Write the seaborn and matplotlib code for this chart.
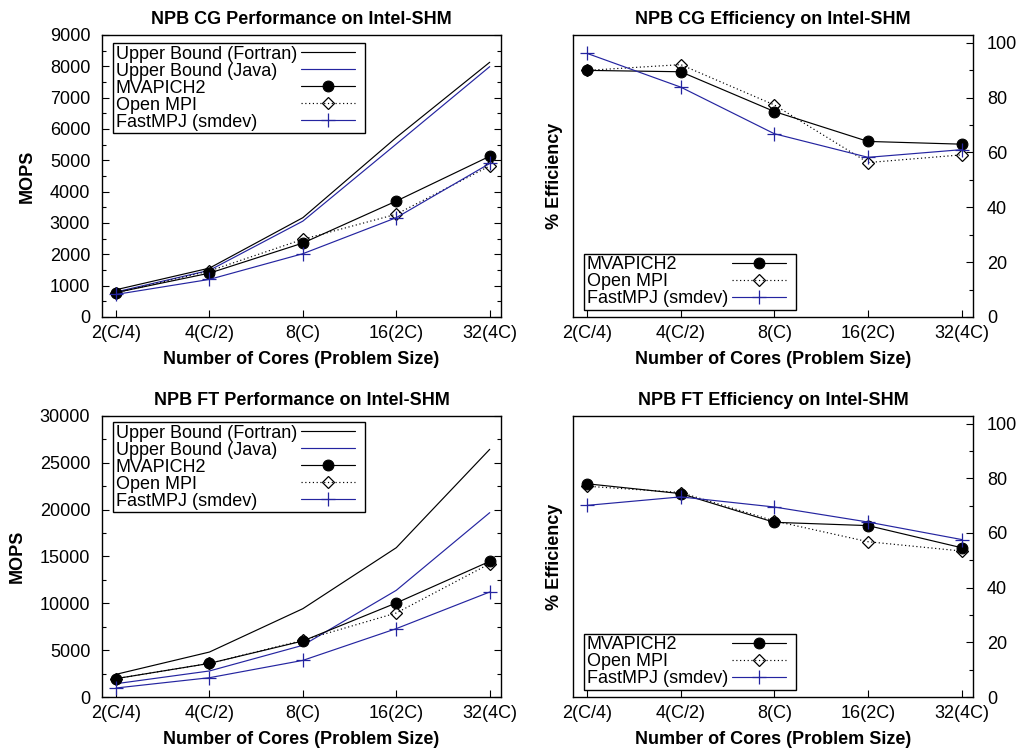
import numpy as np
import pandas as pd
import matplotlib
matplotlib.use("Agg")
import matplotlib.pyplot as plt
import seaborn as sns
from matplotlib.ticker import MultipleLocator
from matplotlib.offsetbox import DrawingArea

# ---------------- data ----------------
categories = ["2(C/4)", "4(C/2)", "8(C)", "16(2C)", "32(4C)"]

cg_fortran = [870, 1560, 3170, 5730, 8130]
cg_java = [800, 1490, 3060, 5520, 7990]
cg_mvapich = [780, 1400, 2360, 3700, 5130]
cg_openmpi = [770, 1470, 2480, 3280, 4820]
cg_fastmpj = [720, 1200, 2020, 3170, 4900]

cg_eff_mvapich = [89.9, 89.4, 74.9, 64.0, 63.0]
cg_eff_openmpi = [89.9, 92.0, 77.3, 56.3, 59.1]
cg_eff_fastmpj = [96.1, 83.8, 66.8, 58.2, 61.0]

ft_fortran = [2420, 4800, 9430, 15940, 26440]
ft_java = [1420, 2780, 5520, 11390, 19680]
ft_mvapich = [1960, 3590, 5980, 10040, 14480]
ft_openmpi = [1960, 3590, 6050, 8970, 14230]
ft_fastmpj = [960, 2060, 3910, 7300, 11210]

ft_eff_mvapich = [78.0, 74.4, 63.9, 62.7, 54.6]
ft_eff_openmpi = [77.1, 74.8, 64.4, 56.8, 53.4]
ft_eff_fastmpj = [70.1, 73.2, 69.5, 64.0, 57.6]

labels_perf = ["Upper Bound (Fortran)", "Upper Bound (Java)", "MVAPICH2",
               "Open MPI", "FastMPJ (smdev)"]
labels_eff = ["MVAPICH2", "Open MPI", "FastMPJ (smdev)"]

# ---------------- style ----------------
sns.set_theme(style="white")
plt.rcParams["font.family"] = ["Liberation Sans", "DejaVu Sans"]
for k in ["text.color", "axes.labelcolor", "xtick.color", "ytick.color", "axes.edgecolor"]:
    plt.rcParams[k] = "black"
FS = 13
BLUE = "#2424a0"
LW = 0.85

styles = {
    "Upper Bound (Fortran)": dict(color="black", lw=LW, marker=None),
    "Upper Bound (Java)": dict(color=BLUE, lw=LW, marker=None),
    "MVAPICH2": dict(color="black", lw=LW, marker="o", ms=7.8, mfc="black", mec="black"),
    "Open MPI": dict(color="black", lw=LW, ls=(0, (1, 2.2)), marker="D", ms=6.3,
                     mfc="none", mec="black", mew=0.9),
    "FastMPJ (smdev)": dict(color=BLUE, lw=LW, marker="+", ms=10, mew=0.9, mec=BLUE),
}

fig = plt.figure(figsize=(10.19, 7.51), dpi=100)
ax_cg = fig.add_axes([0.1001, 0.5779, 0.3915, 0.3755])
ax_cge = fig.add_axes([0.5623, 0.5779, 0.3925, 0.3755])
ax_ft = fig.add_axes([0.1001, 0.0719, 0.3915, 0.3742])
ax_fte = fig.add_axes([0.5623, 0.0719, 0.3925, 0.3742])

pos = np.arange(len(categories))


def draw(ax, series, labels):
    for lab, vals in zip(labels, series):
        df = pd.DataFrame({"x": pos, "y": vals})
        st = dict(styles[lab])
        sns.lineplot(data=df, x="x", y="y", ax=ax, label=lab, **st)


def style_axes(ax, title, ylabel, eff=False):
    ax.set_xlim(-0.15, 4.12)
    ax.set_xticks(pos)
    ax.set_xticklabels(categories)
    for s in ax.spines.values():
        s.set_color("black")
        s.set_linewidth(1.0)
    ax.set_title(title, fontsize=FS, fontweight="bold", pad=8)
    ax.set_xlabel("Number of Cores (Problem Size)", fontsize=FS, fontweight="bold", labelpad=6)
    ax.tick_params(axis="x", which="both", direction="in", bottom=True, top=False,
                   length=5, width=0.8, labelsize=FS, pad=6, color="black")
    if eff:
        ax.set_ylim(0, 102.8)
        ax.yaxis.set_major_locator(MultipleLocator(20))
        ax.yaxis.set_minor_locator(MultipleLocator(10))
        ax.yaxis.tick_right()
        ax.yaxis.set_label_position("left")
        ax.tick_params(axis="y", which="both", direction="in", left=False, right=True,
                       labelleft=False, labelright=True, labelsize=FS, pad=10,
                       width=0.8, color="black")
        ax.tick_params(axis="y", which="major", length=5)
        ax.tick_params(axis="y", which="minor", length=3)
        ax.set_ylabel(ylabel, fontsize=FS, fontweight="bold", labelpad=7)
    else:
        ax.tick_params(axis="y", which="both", direction="in", left=True, right=True,
                       labelsize=FS, pad=8.5, width=0.8, color="black")
        ax.tick_params(axis="y", which="major", length=5)
        ax.tick_params(axis="y", which="minor", length=3)
        ax.set_ylabel(ylabel, fontsize=FS, fontweight="bold", labelpad=10)


draw(ax_cg, [cg_fortran, cg_java, cg_mvapich, cg_openmpi, cg_fastmpj], labels_perf)
style_axes(ax_cg, "NPB CG Performance on Intel-SHM", "MOPS")
ax_cg.set_ylim(0, 9000)
ax_cg.yaxis.set_major_locator(MultipleLocator(1000))
ax_cg.yaxis.set_minor_locator(MultipleLocator(500))

draw(ax_cge, [cg_eff_mvapich, cg_eff_openmpi, cg_eff_fastmpj], labels_eff)
style_axes(ax_cge, "NPB CG Efficiency on Intel-SHM", "% Efficiency", eff=True)

draw(ax_ft, [ft_fortran, ft_java, ft_mvapich, ft_openmpi, ft_fastmpj], labels_perf)
style_axes(ax_ft, "NPB FT Performance on Intel-SHM", "MOPS")
ax_ft.set_ylim(0, 30000)
ax_ft.yaxis.set_major_locator(MultipleLocator(5000))
ax_ft.yaxis.set_minor_locator(MultipleLocator(2500))

draw(ax_fte, [ft_eff_mvapich, ft_eff_openmpi, ft_eff_fastmpj], labels_eff)
style_axes(ax_fte, "NPB FT Efficiency on Intel-SHM", "% Efficiency", eff=True)

legends = []
for ax, loc, anchor in [(ax_cg, "upper left", (0.0276, 0.9716)),
                        (ax_ft, "upper left", (0.0276, 0.979)),
                        (ax_cge, "lower left", (0.0275, 0.025)),
                        (ax_fte, "lower left", (0.0275, 0.025))]:
    leg = ax.legend(loc=loc, bbox_to_anchor=anchor, borderaxespad=0, fontsize=FS,
                    markerfirst=False, handlelength=3.0, handletextpad=0.0,
                    labelspacing=0.0, borderpad=0.15, fancybox=False, framealpha=1,
                    edgecolor="black")
    leg.get_frame().set_linewidth(1.0)
    legends.append(leg)

# left-align the legend texts (gnuplot style: text left, sample right)
fig.canvas.draw()
renderer = fig.canvas.get_renderer()
px2pt = 72.0 / fig.dpi
for leg in legends:
    col = leg._legend_handle_box.get_children()[0]
    rows = col.get_children()
    widths = [r.get_children()[0].get_window_extent(renderer).width for r in rows]
    maxw = max(widths)
    for r, w in zip(rows, widths):
        txt, hb = r.get_children()
        gap = DrawingArea((maxw - w) * px2pt + 3.0, 1)
        tail = DrawingArea(5.0, 1)
        r._children = [txt, gap, hb, tail]

fig.savefig("out.png", dpi=100, facecolor="white")
